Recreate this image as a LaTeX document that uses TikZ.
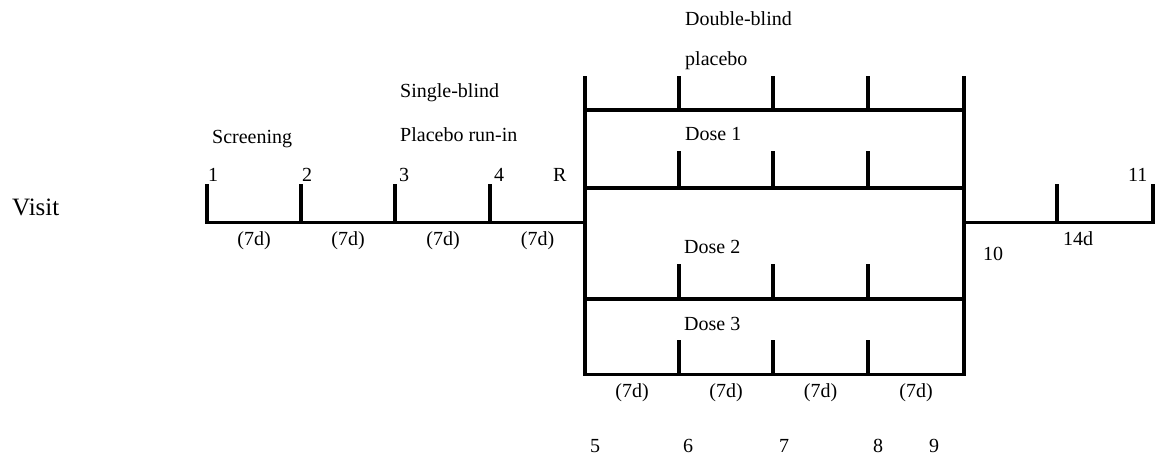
\documentclass[tikz,border=0pt]{standalone}
\usepackage{fontspec}
\setmainfont{Liberation Serif}
\begin{document}
\begin{tikzpicture}[x=1pt,y=-1pt,
  bar/.style={line width=3.6pt,line cap=rect,line join=miter},
  lbl/.style={inner sep=0pt,anchor=base west,font=\fontsize{20}{24}\selectfont},
  dur/.style={inner sep=0pt,anchor=base,font=\fontsize{20}{24}\selectfont}]
\useasboundingbox (0,0) rectangle (1162,459);
% named coordinates
\coordinate (a0) at (207,222.5);
\coordinate (a1) at (301,222.5);
\coordinate (a2) at (395,222.5);
\coordinate (a3) at (490,222.5);
\coordinate (bL) at (585,222.5);
\coordinate (bR) at (964,222.5);
\coordinate (c1) at (1057,222.5);
\coordinate (c2) at (1153,222.5);
% left timeline
\draw[bar] (207,186) -- (a0) -- (bL);
\foreach \x in {301,395,490} \draw[bar] (\x,186) -- (\x,222.5);
% middle block
\draw[bar] (585,78) -- (585,374.5) -- (964,374.5) -- (964,78);
\foreach \y in {110,188,299} \draw[bar] (585,\y) -- (964,\y);
\foreach \x in {679,773,868} {
  \draw[bar] (\x,78) -- (\x,110);
  \draw[bar] (\x,153) -- (\x,188);
  \draw[bar] (\x,266) -- (\x,299);
  \draw[bar] (\x,342) -- (\x,374.5);
}
% right timeline
\draw[bar] (bR) -- (c2) -- (1153,186);
\draw[bar] (1057,186) -- (c1);
% texts
\node[lbl,font=\fontsize{25}{30}\selectfont] (visit) at (12,215) {Visit};
\node[lbl] (scr) at (212,143) {Screening};
\node[lbl] (sb) at (400,97) {Single-blind};
\node[lbl] (pri) at (400,141) {Placebo run-in};
\node[lbl] (v1) at (208,181.5) {1};
\node[lbl] (v2) at (302,181.5) {2};
\node[lbl] (v3) at (399,181.5) {3};
\node[lbl] (v4) at (494,181.5) {4};
\node[lbl] (vR) at (553,181.5) {R};
\node[dur] (d1) at (254,245) {(7d)};
\node[dur] (d2) at (348,245) {(7d)};
\node[dur] (d3) at (443,245) {(7d)};
\node[dur] (d4) at (537.5,245) {(7d)};
\node[lbl] (db) at (685,25) {Double-blind};
\node[lbl] (pl) at (685,65) {placebo};
\node[lbl] (ds1) at (685,140) {Dose 1};
\node[lbl] (ds2) at (684,253) {Dose 2};
\node[lbl] (ds3) at (684,330) {Dose 3};
\node[dur] (e1) at (632,397) {(7d)};
\node[dur] (e2) at (726,397) {(7d)};
\node[dur] (e3) at (820.5,397) {(7d)};
\node[dur] (e4) at (916,397) {(7d)};
\node[lbl] (v5) at (590,452) {5};
\node[lbl] (v6) at (683,452) {6};
\node[lbl] (v7) at (779,452) {7};
\node[lbl] (v8) at (873,452) {8};
\node[lbl] (v9) at (929,452) {9};
\node[lbl] (v10) at (983,260) {10};
\node[lbl] (f14) at (1063,245) {14d};
\node[lbl] (v11) at (1128,181) {11};
\end{tikzpicture}
\end{document}
